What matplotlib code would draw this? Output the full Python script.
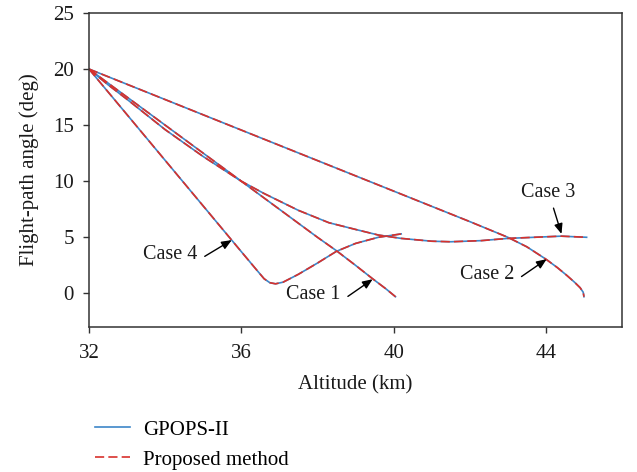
import matplotlib
matplotlib.use('Agg')
import matplotlib.pyplot as plt

plt.rcParams['font.family'] = ['Liberation Serif', 'DejaVu Serif']

# altitude (km) vs flight-path angle (deg)
case1_h = [32.0, 33.0, 34.0, 35.0, 36.0, 37.0, 38.0, 38.5, 39.0, 39.45, 39.8, 40.05]
case1_g = [20.0, 17.5, 15.0, 12.5, 10.0, 7.5, 5.0, 3.8, 2.5, 1.3, 0.4, -0.3]

case2_h = [32.0, 34.0, 36.0, 38.0, 40.0, 42.0, 43.0, 43.5, 44.0, 44.3, 44.55, 44.75, 44.9, 44.98, 45.0]
case2_g = [20.0, 17.28, 14.56, 11.84, 9.12, 6.4, 5.0, 4.15, 3.05, 2.3, 1.6, 1.0, 0.5, 0.1, -0.3]

case3_h = [32.0, 32.5, 33.0, 34.0, 35.0, 36.0, 36.6, 37.5, 38.3, 39.0, 39.6, 40.2,
           41.0, 41.5, 42.3, 43.0, 43.7, 44.4, 45.07]
case3_g = [20.0, 18.6, 17.3, 14.6, 12.2, 10.0, 8.9, 7.4, 6.3, 5.7, 5.2, 4.9,
           4.65, 4.6, 4.7, 4.9, 5.0, 5.1, 5.0]

case4_h = [32.0, 33.0, 34.0, 35.0, 36.0, 36.4, 36.6, 36.75, 36.9, 37.1, 37.5, 38.0,
           38.5, 39.0, 39.6, 40.2]
case4_g = [20.0, 15.93, 11.86, 7.79, 3.72, 2.1, 1.3, 0.95, 0.85, 1.0, 1.7, 2.7,
           3.75, 4.45, 5.0, 5.3]

cases = [(case1_h, case1_g), (case2_h, case2_g), (case3_h, case3_g), (case4_h, case4_g)]

# label text position, arrow tail, arrow tip (data coords)
labels = ['Case 1', 'Case 2', 'Case 3', 'Case 4']
label_xy = [(37.88, -0.1), (42.45, 1.7), (44.05, 8.97), (34.13, 3.5)]
tail_xy = [(38.8, -0.27), (43.36, 1.5), (44.2, 7.6), (35.04, 3.3)]
tip_xy = [(39.45, 1.26), (44.02, 3.05), (44.41, 5.3), (35.75, 4.75)]

blue = '#3d86c8'
red = '#d8312c'

fig = plt.figure(figsize=(6.37, 4.72), dpi=100)
ax = fig.add_axes([0.1397, 0.3072, 0.8368, 0.6653])

for i, (h, g) in enumerate(cases):
    ax.plot(h, g, color=blue, lw=1.2, label='GPOPS-II' if i == 0 else None)
for i, (h, g) in enumerate(cases):
    ax.plot(h, g, color=red, lw=1.2, dashes=(5.5, 2.5),
            label='Proposed method' if i == 0 else None)

for lab, lxy, txy, pxy in zip(labels, label_xy, tail_xy, tip_xy):
    ax.text(lxy[0], lxy[1], lab, fontsize=14.5, ha='center', va='center', color='#1a1a1a')
    ax.annotate('', xy=pxy, xytext=txy,
                arrowprops=dict(arrowstyle='-|>,head_length=0.6,head_width=0.25',
                                color='black', lw=1.0, shrinkA=0, shrinkB=0))

ax.set_xlim(32, 46)
ax.set_ylim(-3, 25)
ax.set_xticks([32, 36, 40, 44])
ax.set_yticks([0, 5, 10, 15, 20, 25])
ax.tick_params(direction='out', length=4, width=1, labelsize=15, pad=7, colors='#333333',
               labelcolor='#1a1a1a')
ax.tick_params(axis='x', pad=8)
for s in ax.spines.values():
    s.set_color('#333333')
    s.set_linewidth(1.1)
ax.set_xlabel('Altitude (km)', fontsize=15, color='#1a1a1a', labelpad=9)
ax.set_ylabel('Flight-path angle (deg)', fontsize=15, color='#1a1a1a', labelpad=10)

fig.legend(loc='upper left', bbox_to_anchor=(0.149, 0.110), frameon=False, fontsize=15,
           handlelength=1.68, labelspacing=0.5, handletextpad=0.63, borderaxespad=0,
           borderpad=0)

fig.savefig('out.png', dpi=100)
